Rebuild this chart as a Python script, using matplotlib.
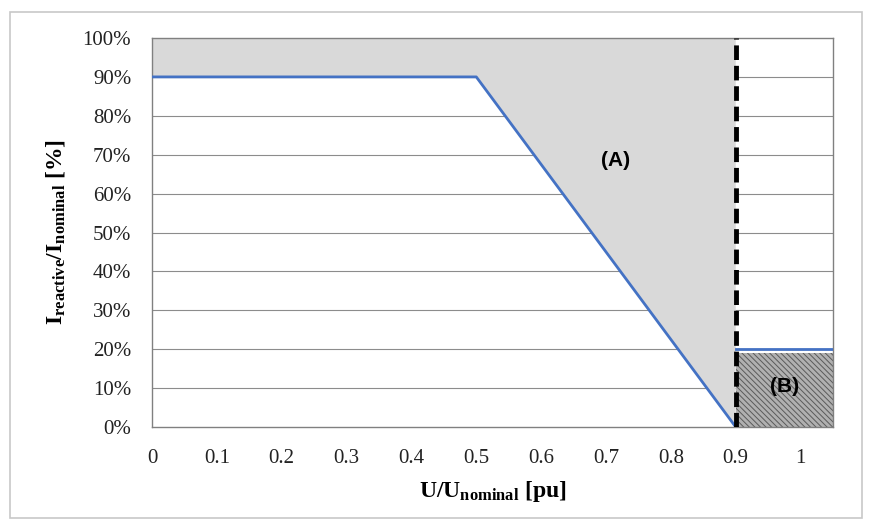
import matplotlib.pyplot as plt
import matplotlib.patches as mpatches
from matplotlib.ticker import PercentFormatter

plt.rcParams['font.family'] = 'Liberation Serif'
plt.rcParams['mathtext.fontset'] = 'custom'
plt.rcParams['mathtext.rm'] = 'Liberation Serif'
plt.rcParams['mathtext.bf'] = 'Liberation Serif:bold'
plt.rcParams['hatch.color'] = '#5a5a5a'
plt.rcParams['hatch.linewidth'] = 0.7

# characteristic (U in pu, reactive current share)
u_curve = [0.0, 0.5, 0.9]
i_curve = [0.90, 0.90, 0.0]
u_upper = [0.9, 1.05]
i_upper = [0.20, 0.20]
u_limit = 0.9
b_top = 0.19

x_ticks = [0, 0.1, 0.2, 0.3, 0.4, 0.5, 0.6, 0.7, 0.8, 0.9, 1]
x_labels = ['0', '0.1', '0.2', '0.3', '0.4', '0.5', '0.6', '0.7', '0.8', '0.9', '1']
y_ticks = [i / 10 for i in range(11)]

fig = plt.figure(figsize=(8.72, 5.28), dpi=100)
ax = fig.add_axes([0.1743, 0.1913, 0.7810, 0.7367])

# outer frame of the chart
fig.patches.append(mpatches.Rectangle((10 / 872, 10 / 528), 852 / 872, 506 / 528,
                                      transform=fig.transFigure, fill=False,
                                      edgecolor='#c8c8c8', linewidth=1.2))

for y in y_ticks[1:-1]:
    ax.axhline(y, color='#8c8c8c', linewidth=0.8, zorder=1)

# region (A)
ax.fill(u_curve + [u_limit, 0.0], i_curve + [1.0, 1.0],
        color='#d9d9d9', zorder=2, linewidth=0)
# region (B)
ax.fill_between([u_limit, 1.05], 0, b_top, facecolor='#b0b0b0',
                hatch='\\\\\\\\\\\\', edgecolor='#5a5a5a', linewidth=0, zorder=2)

ax.plot(u_curve, i_curve, color='#4472c4', linewidth=2, zorder=3)
ax.plot(u_upper, i_upper, color='#4472c4', linewidth=2, zorder=3)
ax.plot([u_limit, u_limit], [0, 1], color='black', linewidth=3.5,
        linestyle=(0, (3, 1.2)), zorder=4)

ax.text(0.715, 0.685, '(A)', fontsize=15, fontweight='bold',
        family='Liberation Sans', ha='center', va='center', zorder=5)
ax.text(0.975, 0.105, '(B)', fontsize=15, fontweight='bold',
        family='Liberation Sans', ha='center', va='center', zorder=5)

ax.set_xlim(0, 1.05)
ax.set_ylim(0, 1.0)
ax.set_xticks(x_ticks)
ax.set_xticklabels(x_labels)
ax.set_yticks(y_ticks)
ax.yaxis.set_major_formatter(PercentFormatter(1.0, decimals=0))
ax.tick_params(length=0, labelsize=15, colors='#222222')
ax.tick_params(axis='x', pad=16)
ax.tick_params(axis='y', pad=15)

for s in ax.spines.values():
    s.set_color('#808080')
    s.set_linewidth(1)

ax.set_xlabel(r'$\mathbf{U/U_{nominal}}$ [pu]', fontsize=17, fontweight='bold', labelpad=8)
ax.set_ylabel(r'$\mathbf{I_{reactive}/I_{nominal}}$ [%]', fontsize=17, fontweight='bold', labelpad=11)

fig.savefig('out.png', dpi=100)
